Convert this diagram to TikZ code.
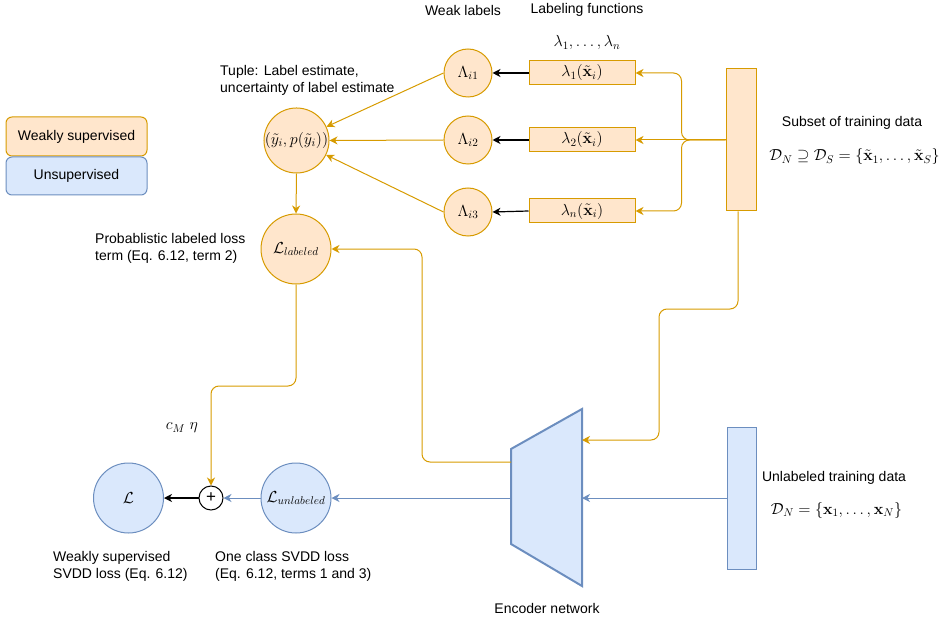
\RequirePackage{fix-cm}
\documentclass[tikz,border=0pt]{standalone}
\usepackage{amsmath,amssymb}
\usepackage[no-math]{fontspec}
\setmainfont{Liberation Sans}
\usetikzlibrary{arrows.meta}

\definecolor{wsFill}{HTML}{FFE6CC}
\definecolor{wsLine}{HTML}{D79B00}
\definecolor{usFill}{HTML}{DAE8FC}
\definecolor{usLine}{HTML}{6C8EBF}

\tikzset{
  wsbox/.style={draw=wsLine, fill=wsFill, line width=1pt, inner sep=0pt},
  usbox/.style={draw=usLine, fill=usFill, line width=1pt, inner sep=0pt},
  lbl/.style={inner sep=0pt},
  mth/.style={font=\fontsize{16}{19.2}\selectfont},
  tip/.style={-{Stealth[length=8pt,width=8pt,inset=2.5pt]}},
  wflow/.style={draw=wsLine, line width=1pt, rounded corners=8pt, tip},
  uflow/.style={draw=usLine, line width=1pt, rounded corners=8pt, tip},
  kflow/.style={draw=black, line width=1.2pt, tip},
}

\begin{document}
\begin{tikzpicture}[x=1pt, y=-1pt, font=\fontsize{14}{16.8}\selectfont]
\useasboundingbox (0,0) rectangle (949,620);

% legend
\node[wsbox, rounded corners=6pt, minimum width=141pt, minimum height=39pt] (legW) at (76.5,136.5) {Weakly supervised};
\node[usbox, rounded corners=6pt, minimum width=141pt, minimum height=38pt] (legU) at (76.5,176) {Unsupervised};

% labeling functions and weak labels
\node[wsbox, mth, minimum width=106pt, minimum height=24pt] (f1) at (582,73) {$\lambda_1(\tilde{\mathbf{x}}_i)$};
\node[wsbox, mth, minimum width=106pt, minimum height=24pt] (f2) at (582,140) {$\lambda_2(\tilde{\mathbf{x}}_i)$};
\node[wsbox, mth, minimum width=106pt, minimum height=24pt] (f3) at (582,211) {$\lambda_n(\tilde{\mathbf{x}}_i)$};
\node[wsbox, mth, circle, minimum size=48pt] (w1) at (468,73) {$\Lambda_{i1}$};
\node[wsbox, mth, circle, minimum size=48pt] (w2) at (468,140) {$\Lambda_{i2}$};
\node[wsbox, mth, circle, minimum size=48pt] (w3) at (468,212) {$\Lambda_{i3}$};

% label estimate and losses
\node[wsbox, mth, circle, minimum size=65pt] (tup) at (296.5,140.5) {$(\tilde{y}_i,p(\tilde{y}_i))$};
\node[wsbox, mth, circle, minimum size=70pt] (llab) at (296,249) {$\mathcal{L}_{labeled}$};
\node[usbox, mth, circle, minimum size=70pt] (lun) at (296,498) {$\mathcal{L}_{unlabeled}$};
\node[usbox, mth, circle, minimum size=70pt] (ltot) at (128.5,498) {$\mathcal{L}$};
\node[draw=black, fill=white, circle, line width=1pt, minimum size=24pt, inner sep=0pt,
      font=\fontsize{17}{17}\selectfont] (plus) at (211,498) {+};

% data sets
\node[wsbox, minimum width=30pt, minimum height=142pt] (sub) at (741,140) {};
\node[usbox, minimum width=29pt, minimum height=142pt] (unl) at (741.5,498) {};

% encoder network
\draw[usLine, fill=usFill, line width=2pt, line join=miter]
  (511,449) -- (582,409) -- (582,586) -- (511,544) -- cycle;
\coordinate (encTopIn) at (582,440);
\coordinate (encTopOut) at (511,462);
\coordinate (encIn) at (582,498);
\coordinate (encOut) at (511,498);

% bend points
\coordinate (k1) at (659,309);
\coordinate (k2) at (422,249);
\coordinate (k3) at (211,386);

% connectors
\draw[kflow] (f1.west) -- (w1.east);
\draw[kflow] (f2.west) -- (w2.east);
\draw[kflow] (f3.west) -- (w3.east);
\draw[wflow] (w1.west) -- (tup);
\draw[wflow] (w2.west) -- (tup.east);
\draw[wflow] (w3.west) -- (tup);
\draw[wflow] (tup.south) -- (llab.north);
\draw[wflow] (sub.west) -- (f2.east);
\draw[wflow] (sub.west) -- ++(-44,0) |- (f1.east);
\draw[wflow] (sub.west) -- ++(-44,0) |- (f3.east);
\draw[wflow] ([xshift=-3pt]sub.south) |- (k1) |- (encTopIn);
\draw[wflow] (encTopOut) -| (k2) -- (llab.east);
\draw[wflow] (llab.south) |- (k3) -- (plus.north);
\draw[uflow] (unl.west) -- (encIn);
\draw[uflow] (encOut) -- (lun.east);
\draw[uflow] (lun.west) -- (plus.east);
\draw[kflow] (plus.west) -- (ltot.east);

% labels
\node[lbl] (tWeak) at (463,10) {Weak labels};
\node[lbl] (tLF) at (587,10) {Labeling functions};
\node[lbl, mth] (tLam) at (587,43) {$\lambda_1,\ldots,\lambda_n$};
\node[lbl, anchor=west, align=left] (tTup) at (220,80) {Tuple: Label estimate,\\uncertainty of label estimate};
\node[lbl, anchor=west, align=left] (tProb) at (95,248.5) {Probablistic labeled loss\\term (Eq. 6.12, term 2)};
\node[lbl] (tSub) at (852,123) {Subset of training data};
\node[lbl, mth] (tSubF) at (854.5,157) {$\mathcal{D}_N \supseteq \mathcal{D}_S = \{\tilde{\mathbf{x}}_1,\ldots,\tilde{\mathbf{x}}_S\}$};
\node[lbl] (tUnl) at (834,478) {Unlabeled training data};
\node[lbl, mth] (tUnlF) at (836.5,510) {$\mathcal{D}_N = \{\mathbf{x}_1,\ldots,\mathbf{x}_N\}$};
\node[lbl] (tEnc) at (547,608) {Encoder network};
\node[lbl, mth] (tCM) at (182,428) {$c_M~\eta$};
\node[lbl, anchor=west, align=left] (tWS) at (53,566) {Weakly supervised\\SVDD loss (Eq. 6.12)};
\node[lbl, anchor=west, align=left] (tOC) at (215,566) {One class SVDD loss\\(Eq. 6.12, terms 1 and 3)};
\end{tikzpicture}
\end{document}
